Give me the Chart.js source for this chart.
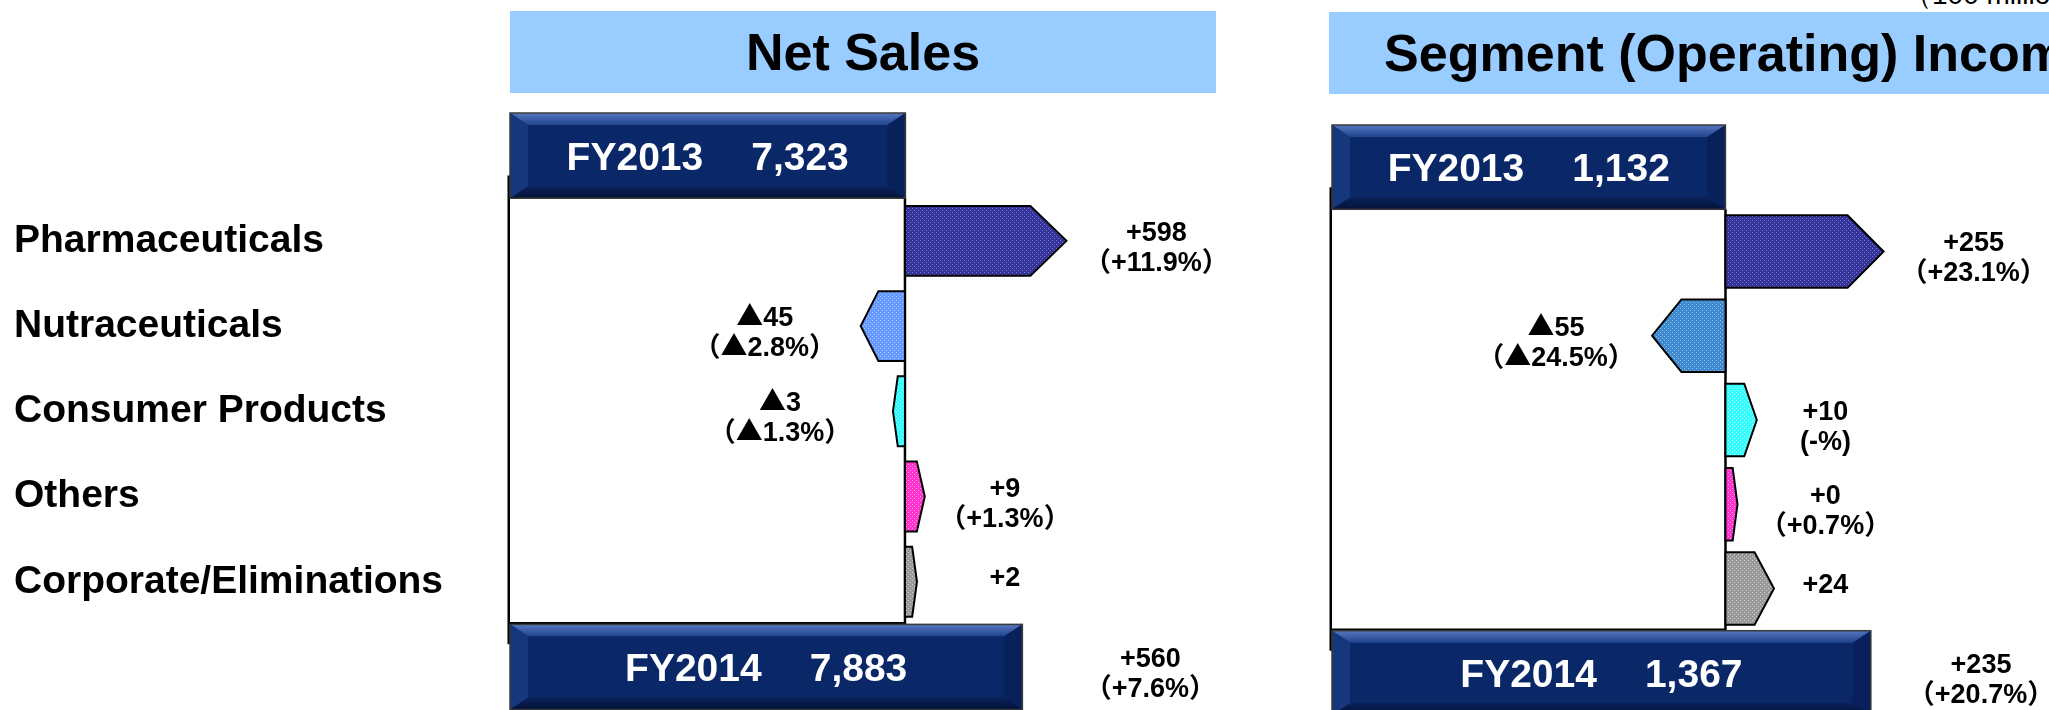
<!DOCTYPE html>
<html>
<head>
<meta charset="utf-8">
<title>Net Sales / Segment (Operating) Income</title>
<script src="https://cdn.jsdelivr.net/npm/chart.js@4.4.1/dist/chart.umd.min.js"></script>
<style>
  html, body { margin: 0; padding: 0; background: #fff; }
  body { position: relative; width: 2049px; height: 710px; overflow: hidden;
         font-family: "Liberation Sans", Arial, sans-serif; }
  .band { position: absolute; background: #99ccff; color: #000; font-weight: bold; font-size: 52px;
          display: flex; align-items: center; justify-content: center; white-space: nowrap; }
  #unit { position: absolute; left: 1904px; top: -19px; font-size: 28px; line-height: 28px; white-space: nowrap; }
  canvas { position: absolute; top: 0; }
</style>
</head>
<body>
<div class="band" style="left:510px; top:11px; width:706px; height:82px;">Net Sales</div>
<div class="band" style="left:1329px; top:12px; width:821px; height:82px;">Segment (Operating) Income</div>
<div id="unit">（100 million yen）</div>
<canvas id="salesChart" width="1230" height="736" style="left:0"></canvas>
<canvas id="incomeChart" width="809" height="720" style="left:1240px"></canvas>
<script>
// values in 100 million yen
const years = ['FY2013', 'FY2014'];
const segments = ['Pharmaceuticals', 'Nutraceuticals', 'Consumer Products', 'Others', 'Corporate/Eliminations'];

const salesTotals = [7323, 7883];
const salesChange = [598, -45, -3, 9, 2];
const salesChangePct = [11.9, -2.8, -1.3, 1.3, null];
const salesTotalChange = 560;
const salesTotalPct = 7.6;

const incomeTotals = [1132, 1367];
const incomeChange = [255, -55, 10, 0, 24];
const incomeChangePct = [23.1, -24.5, '-', 0.7, null];
const incomeTotalChange = 235;
const incomeTotalPct = 20.7;

const rows = [years[0], ...segments, years[1]];
const FONT = "'Liberation Sans', Arial, sans-serif";
const CJK = "'Noto Sans CJK JP', sans-serif";

// the change arrows are not drawn to scale in the original, a square-root axis gets close
class SqrtScale extends Chart.LinearScale {
    static id = 'sqrt';
    static defaults = Chart.LinearScale.defaults;
    getPixelForValue(value) {
        const f = v => Math.sign(v) * Math.sqrt(Math.abs(v));
        const lo = f(this.min), hi = f(this.max);
        return this.getPixelForDecimal((f(value) - lo) / (hi - lo));
    }
    getValueForPixel(pixel) {
        const f = v => Math.sign(v) * Math.sqrt(Math.abs(v));
        const lo = f(this.min), hi = f(this.max);
        const s = lo + this.getDecimalForPixel(pixel) * (hi - lo);
        return Math.sign(s) * s * s;
    }
}
Chart.register(SqrtScale);

// dotted fill like the office pattern
function dots(base, dot) {
    const c = document.createElement('canvas');
    c.width = 4; c.height = 4;
    const g = c.getContext('2d');
    g.fillStyle = base; g.fillRect(0, 0, 4, 4);
    g.fillStyle = dot; g.fillRect(0, 0, 1, 1); g.fillRect(2, 2, 1, 1);
    return g.createPattern(c, 'repeat');
}

function poly(ctx, pts, fill) {
    ctx.beginPath();
    pts.forEach((p, i) => i ? ctx.lineTo(p[0], p[1]) : ctx.moveTo(p[0], p[1]));
    ctx.closePath();
    ctx.fillStyle = fill;
    ctx.fill();
}

function bevelBox(ctx, x, y, w, h) {
    const dx = 18, dy = 12;
    ctx.fillStyle = '#0a2768';
    ctx.fillRect(x, y, w, h);
    const top = ctx.createLinearGradient(0, y, 0, y + dy);
    top.addColorStop(0, '#5676c0'); top.addColorStop(1, '#21448f');
    poly(ctx, [[x, y], [x + w, y], [x + w - dx, y + dy], [x + dx, y + dy]], top);
    const bottom = ctx.createLinearGradient(0, y + h - dy, 0, y + h);
    bottom.addColorStop(0, '#0a2258'); bottom.addColorStop(1, '#031238');
    poly(ctx, [[x, y + h], [x + w, y + h], [x + w - dx, y + h - dy], [x + dx, y + h - dy]], bottom);
    poly(ctx, [[x, y], [x + dx, y + dy], [x + dx, y + h - dy], [x, y + h]], '#17377d');
    poly(ctx, [[x + w, y], [x + w - dx, y + dy], [x + w - dx, y + h - dy], [x + w, y + h]], '#08215a');
    ctx.strokeStyle = '#3a3a3a';
    ctx.lineWidth = 1.5;
    ctx.strokeRect(x, y, w, h);
}

function arrow(ctx, base, tip, y, h, fill) {
    const dir = Math.sign(tip - base) || 1;
    let len = Math.abs(tip - base);
    if (len < 12) len = 12; // keep tiny changes visible
    tip = base + dir * len;
    const neck = tip - dir * Math.min(len * 0.4, 36);
    ctx.beginPath();
    ctx.moveTo(base, y - h / 2);
    ctx.lineTo(neck, y - h / 2);
    ctx.lineTo(tip, y);
    ctx.lineTo(neck, y + h / 2);
    ctx.lineTo(base, y + h / 2);
    ctx.closePath();
    ctx.fillStyle = fill;
    ctx.fill();
    ctx.strokeStyle = '#000';
    ctx.lineWidth = 2;
    ctx.stroke();
    return tip;
}

function fmtChange(v) {
    return (v < 0 ? '▲' : '+') + Math.abs(v).toLocaleString('en-US');
}
function fmtPct(p) {
    if (p === null) return null;
    if (p === '-') return '(-%)';
    return '（' + (p < 0 ? '▲' : '+') + Math.abs(p).toFixed(1) + '%）';
}

// ▲ and full width brackets come from the CJK font, the rest from Liberation
function richText(ctx, text, cx, y, size) {
    const runs = [];
    for (const ch of text) {
        const cjk = /[▲（）]/.test(ch);
        const last = runs[runs.length - 1];
        if (last && last.cjk === cjk) last.s += ch;
        else runs.push({ s: ch, cjk: cjk });
    }
    let total = 0;
    runs.forEach(r => {
        ctx.font = 'bold ' + size + 'px ' + (r.cjk ? CJK : FONT);
        r.w = ctx.measureText(r.s).width;
        total += r.w;
    });
    let x = cx - total / 2;
    runs.forEach(r => {
        ctx.font = 'bold ' + size + 'px ' + (r.cjk ? CJK : FONT);
        ctx.fillText(r.s, x, y);
        x += r.w;
    });
}

function label(ctx, x, y, lines) {
    ctx.fillStyle = '#000';
    ctx.textAlign = 'left';
    ctx.textBaseline = 'alphabetic';
    if (lines[1]) {
        richText(ctx, lines[0], x, y, 27);
        richText(ctx, lines[1], x, y + 30, 27);
    } else {
        richText(ctx, lines[0], x, y + 4, 27);
    }
}

const bridgePlugin = {
    id: 'bridge',
    beforeDatasetDraw() {
        return false; // bars are drawn by hand in afterDraw
    },
    afterDraw(chart) {
        const ctx = chart.ctx;
        const info = chart.options.plugins.bridge;
        const totals = chart.getDatasetMeta(0).data;
        const changes = chart.getDatasetMeta(1).data;
        const first = totals[0], last = totals[totals.length - 1];
        const left = chart.chartArea.left;
        const zero = chart.scales.xd.getPixelForValue(0);

        ctx.save();
        // frame behind the arrows
        ctx.strokeStyle = '#000';
        ctx.lineWidth = 2.5;
        ctx.beginPath();
        ctx.moveTo(left - 1.25, first.y + 20);
        ctx.lineTo(left - 1.25, last.y - last.height / 2 + 20);
        ctx.moveTo(zero, first.y + first.height / 2);
        ctx.lineTo(zero, last.y - last.height / 2);
        ctx.moveTo(left, last.y - last.height / 2 - 1);
        ctx.lineTo(zero, last.y - last.height / 2 - 1);
        ctx.stroke();

        // change arrows + labels, small changes share one label column
        const changeData = chart.data.datasets[1].data;
        changes.forEach((bar, i) => {
            const v = changeData[i];
            if (v === null) return;
            const tip = arrow(ctx, bar.base, bar.x, bar.y, bar.height, bar.options.backgroundColor);
            let x;
            if (v < 0) x = Math.min(tip - 96, zero - 125);
            else x = (zero + 100 - tip >= 40) ? zero + 100 : tip + 90;
            label(ctx, x, bar.y, [fmtChange(v), fmtPct(info.pct[i - 1])]);
        });

        // FY boxes
        const totalData = chart.data.datasets[0].data;
        [first, last].forEach((box, k) => {
            const x0 = Math.max(box.base, left);
            bevelBox(ctx, x0, box.y - box.height / 2, box.x - x0, box.height);
            ctx.font = 'bold 39px ' + FONT;
            ctx.fillStyle = '#fff';
            ctx.textBaseline = 'alphabetic';
            ctx.textAlign = 'left';
            const yr = years[k];
            const val = totalData[k === 0 ? 0 : totalData.length - 1].toLocaleString('en-US');
            const gap = 48;
            const w1 = ctx.measureText(yr).width, w2 = ctx.measureText(val).width;
            const sx = (x0 + box.x) / 2 - (w1 + gap + w2) / 2;
            const ty = box.y + 14;
            ctx.fillText(yr, sx, ty);
            ctx.fillText(val, sx + w1 + gap, ty);
        });
        // keep the total label inside the canvas
        const tx = Math.min(last.x + 128, chart.width - 68);
        label(ctx, tx, last.y, [fmtChange(info.totalChange), fmtPct(info.totalPct)]);
        ctx.restore();
    }
};

function buildBridge(id, totals, change, pct, totalChange, totalPct, setup) {
    const ctx = document.getElementById(id).getContext('2d');
    return new Chart(ctx, {
        type: 'bar',
        data: {
            labels: rows,
            datasets: [{
                label: 'Total',
                data: rows.map((r, i) => i === 0 ? totals[0] : i === rows.length - 1 ? totals[1] : null),
                xAxisID: 'xt',
                grouped: false,
                barPercentage: 1,
                categoryPercentage: 1,
                backgroundColor: '#0a2768'
            }, {
                label: 'Change',
                data: [null, ...change, null],
                xAxisID: 'xd',
                grouped: false,
                barPercentage: setup.arrowPct,
                categoryPercentage: 1,
                backgroundColor: [null, ...setup.fills, null]
            }]
        },
        options: {
            indexAxis: 'y',
            responsive: false,
            devicePixelRatio: 1,
            animation: false,
            events: [],
            layout: { padding: setup.padding },
            plugins: {
                legend: { display: false },
                tooltip: { enabled: false },
                bridge: { pct: pct, totalChange: totalChange, totalPct: totalPct }
            },
            scales: {
                y: {
                    type: 'category',
                    display: setup.showNames,
                    grid: { display: false },
                    border: { display: false },
                    ticks: {
                        autoSkip: false,
                        crossAlign: 'far',
                        color: '#000',
                        font: { family: FONT, size: 39, weight: 'bold' },
                        callback: (value, index) => (index === 0 || index === rows.length - 1) ? '' : rows[index]
                    },
                    afterFit: (scale) => { scale.width = setup.nameWidth; }
                },
                // totals axis does not start at zero (boxes are cut)
                xt: { type: 'linear', axis: 'x', position: 'bottom', display: false, min: setup.totalRange[0], max: setup.totalRange[1] },
                // change axis, its zero sits at the end of the FY2013 box
                xd: { type: 'sqrt', axis: 'x', position: 'top', display: false, min: setup.changeRange[0], max: setup.changeRange[1] }
            }
        },
        plugins: [bridgePlugin]
    });
}

const pharma = dots('#333399', '#7a7acc');
const consumer = dots('#33ffff', '#b0ffff');
const others = dots('#ff33cc', '#ffa0ee');
const corporate = dots('#999999', '#d0d0d0');

buildBridge('salesChart', salesTotals, salesChange, salesChangePct, salesTotalChange, salesTotalPct, {
    fills: [pharma, dots('#6699ff', '#b0cdff'), consumer, others, corporate],
    arrowPct: 0.82,
    padding: { left: 14, right: 14, top: 113, bottom: 0 },
    showNames: true,
    nameWidth: 496,
    totalRange: [5430, 8810],
    changeRange: [-3580, 2220]
});

buildBridge('incomeChart', incomeTotals, incomeChange, incomeChangePct, incomeTotalChange, incomeTotalPct, {
    fills: [pharma, dots('#3d8ad0', '#93c2ea'), consumer, others, corporate],
    arrowPct: 0.86,
    padding: { left: 92, right: 0, top: 125, bottom: 5 },
    showNames: false,
    nameWidth: 0,
    totalRange: [496, 1655],
    changeRange: [-1580, 1068]
});
</script>
</body>
</html>
